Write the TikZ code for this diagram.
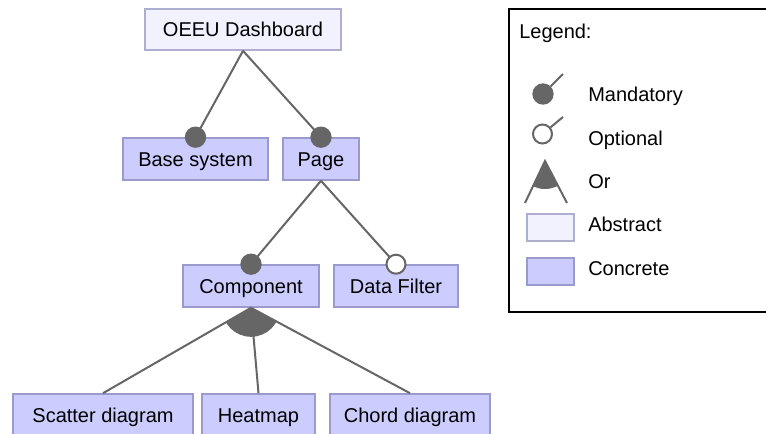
\documentclass[tikz,border=0pt]{standalone}
\usepackage{fontspec}
\setmainfont{Liberation Sans}
\usetikzlibrary{positioning,calc}
\definecolor{featgray}{HTML}{666666}
\definecolor{concfill}{HTML}{CCCCFF}
\definecolor{concline}{HTML}{9A9ACC}
\definecolor{absfill}{HTML}{F2F2FF}
\definecolor{absline}{HTML}{AEAECF}

\begin{document}
\begin{tikzpicture}[x=0.75pt,y=-0.75pt,
    font=\fontsize{15pt}{18pt}\selectfont,
    feature/.style={draw,line width=1.2pt,minimum height=31.5pt,inner xsep=0pt,
        text height=10.75pt,text depth=0pt},
    concrete/.style={feature,fill=concfill,draw=concline},
    abstract/.style={feature,fill=absfill,draw=absline},
    edge/.style={draw=featgray,line width=1.5pt},
    mandatory/.style={circle,fill=featgray,inner sep=0pt,minimum size=16pt},
    optional/.style={circle,draw=featgray,line width=1.5pt,fill=white,inner sep=0pt,minimum size=14.25pt},
    legtext/.style={anchor=base west,inner sep=0pt}]
    \useasboundingbox (0,0) rectangle (766,434);

    % features
    \node[abstract,minimum width=147pt,minimum height=30.75pt] (dash) at (243,29.5) {OEEU Dashboard};
    \node[concrete,minimum width=108.75pt] (base) at (195.5,159) {Base system};
    \node[concrete,minimum width=57pt] (page) at (321,159) {Page};
    \node[concrete,minimum width=102pt] (comp) at (251,286) {Component};
    \node[concrete,minimum width=93pt] (filter) at (396,286) {Data Filter};
    \node[concrete,minimum width=135pt] (scatter) at (103,415) {Scatter diagram};
    \node[concrete,minimum width=84.75pt] (heat) at (258.5,415) {Heatmap};
    \node[concrete,minimum width=120pt] (chord) at (410,415) {Chord diagram};

    % relations
    \draw[edge] (dash.south) -- (base.north);
    \draw[edge] (dash.south) -- (page.north);
    \draw[edge] (page.south) -- (comp.north);
    \draw[edge] (page.south) -- (filter.north);
    \foreach \c in {scatter,heat,chord}
        \draw[edge] (comp.south) -- (\c.north);
    \begin{scope} % or group
        \clip (comp.south) -- (scatter.north) -- (chord.north) -- cycle;
        \fill[featgray] (comp.south) circle[radius=21.75pt];
    \end{scope}
    \node[mandatory] (base-dot) at (base.north) {};
    \node[mandatory] (page-dot) at (page.north) {};
    \node[mandatory] (comp-dot) at (comp.north) {};
    \node[optional] (filter-dot) at (filter.north) {};

    % legend
    \draw[line width=1.2pt] (509,9) rectangle (775,312);
    \node[legtext] (leg-title) at (519,39) {Legend:};

    \coordinate (leg-mand-end) at (563,74);
    \node[mandatory] (leg-mand) at (543,94) {};
    \draw[edge] (leg-mand) -- (leg-mand-end);
    \node[legtext] (leg-mand-text) at (588,102) {Mandatory};

    \coordinate (leg-opt-end) at (563,117);
    \node[optional] (leg-opt) at (542.5,134) {};
    \draw[edge] (leg-opt) -- (leg-opt-end);
    \node[legtext] (leg-opt-text) at (588,146) {Optional};

    \coordinate (leg-or) at (545,161);
    \coordinate (leg-or-l) at (525,203);
    \coordinate (leg-or-r) at (567,203);
    \draw[edge] (leg-or-l) -- (leg-or) -- (leg-or-r);
    \begin{scope}
        \clip (leg-or) -- (leg-or-l) -- (leg-or-r) -- cycle;
        \fill[featgray] (leg-or) circle[radius=21pt];
    \end{scope}
    \node[legtext] (leg-or-text) at (588,189) {Or};

    \node[abstract,minimum width=35.25pt,minimum height=20.25pt] (leg-abs) at (550.5,227.5) {};
    \node[legtext] (leg-abs-text) at (588,232) {Abstract};
    \node[concrete,minimum width=35.25pt,minimum height=20.25pt] (leg-conc) at (550.5,271.5) {};
    \node[legtext] (leg-conc-text) at (588,276) {Concrete};
\end{tikzpicture}
\end{document}
